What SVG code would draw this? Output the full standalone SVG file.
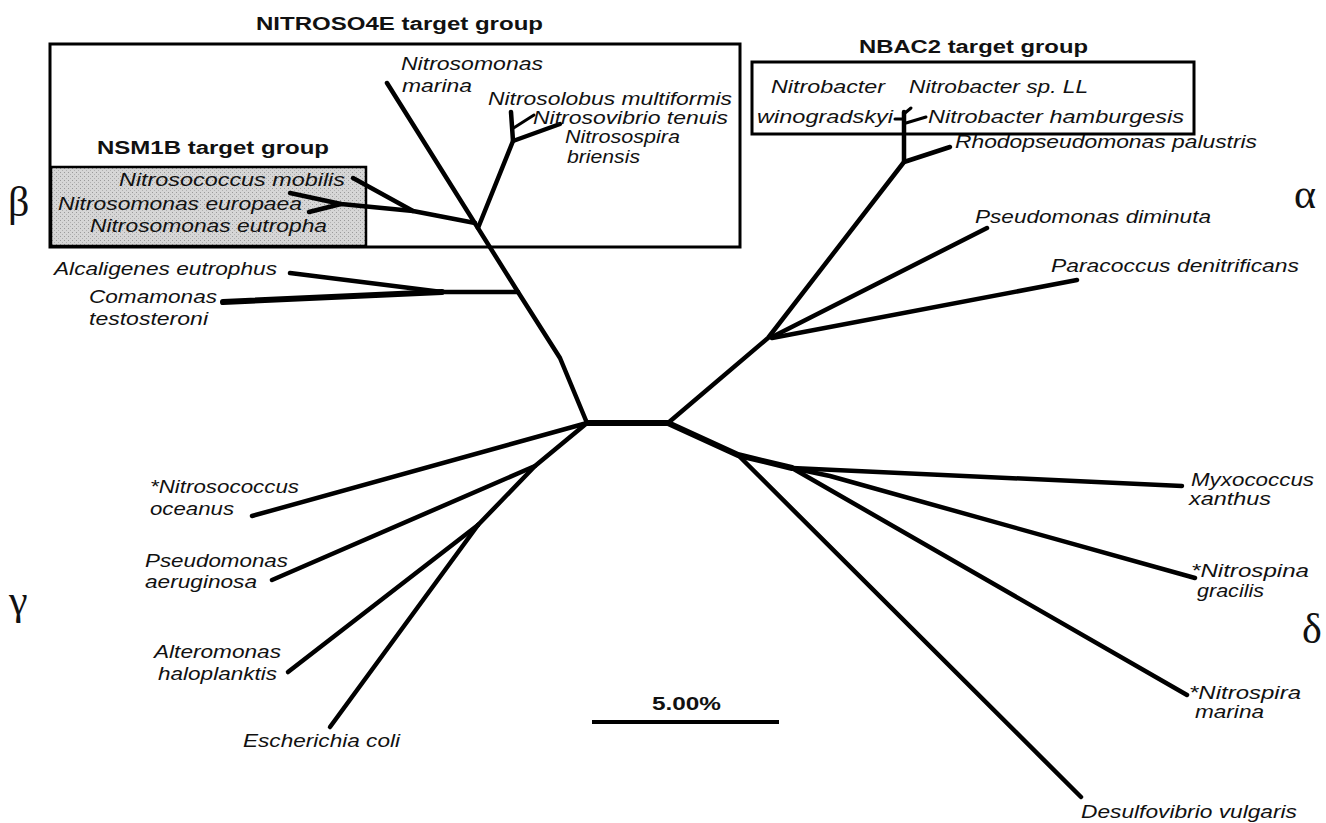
<svg xmlns="http://www.w3.org/2000/svg" width="1326" height="823" viewBox="0 0 1326 823">
<defs>
<style>
.lbl{font-family:"Liberation Sans",Arial,sans-serif;font-style:italic;font-size:17.5px;fill:#111}
.ttl{font-family:"Liberation Sans",Arial,sans-serif;font-weight:bold;font-size:18px;fill:#111}
.grk{font-family:"Liberation Serif","Times New Roman",serif;font-size:42px;fill:#111}
.br{stroke:#000;stroke-width:4.5;fill:none;stroke-linecap:round;stroke-linejoin:round}
.thk{stroke-width:6}
.thin{stroke-width:3}
.box{fill:none;stroke:#000;stroke-width:3}
</style>
<pattern id="stip" width="4" height="4" patternUnits="userSpaceOnUse">
<rect width="4" height="4" fill="#d6d6d6"/>
<rect x="0" y="0" width="1" height="1" fill="#9a9a9a"/>
<rect x="2" y="2" width="1" height="1" fill="#b0b0b0"/>
</pattern>
</defs>
<rect width="1326" height="823" fill="#fff"/>

<g id="group-nitroso4e">
<rect class="box" x="50" y="44" width="690" height="203"/>
<text class="ttl" x="256" y="30" textLength="287" lengthAdjust="spacingAndGlyphs">NITROSO4E target group</text>
</g>
<g id="group-nsm1b">
<rect x="51" y="167" width="315" height="79" fill="url(#stip)" stroke="#000" stroke-width="2.5"/>
<text class="ttl" x="97" y="154" textLength="232" lengthAdjust="spacingAndGlyphs">NSM1B target group</text>
</g>
<g id="group-nbac2">
<rect class="box" x="752" y="62" width="442" height="72"/>
<text class="ttl" x="859" y="53" textLength="229" lengthAdjust="spacingAndGlyphs">NBAC2 target group</text>
</g>

<g id="connectors">
<path class="br thk" d="M587,423 L668,423"/>
<path class="br" d="M387,83 L518,292 L560,358 L587,423"/>
<path class="br" d="M518,292 L442,292 L290,273"/>
<path class="br thk" d="M442,292 L223,302"/>
<path class="br" d="M475,223 L413,211 L353,178"/>
<path class="br" d="M413,211 L341,204 L290,193"/>
<path class="br" d="M341,204 L309,212"/>
<path class="br" d="M478,228 L513,141 L511,112"/>
<path class="br thin" d="M512,129 L534,115"/>
<path class="br" d="M513,141 L560,124"/>
<path class="br" d="M668,423 L768,338 L904,162 L904,112"/>
<path class="br" d="M904,162 L950,147"/>
<path class="br thin" d="M895,119 L904,119"/>
<path class="br thin" d="M905,113 L911,108"/>
<path class="br thin" d="M906,123 L926,117"/>
<path class="br" d="M772,337 L987,228"/>
<path class="br" d="M772,338 L1077,280"/>
<path class="br thk" d="M668,423 L738,455 L792,468"/>
<path class="br" d="M738,455 L1081,797"/>
<path class="br" d="M792,468 L1187,695"/>
<path class="br" d="M792,468 L1182,486"/>
<path class="br" d="M792,468 L830,476 L1195,578"/>
<path class="br" d="M587,423 L252,516"/>
<path class="br" d="M587,423 L535,466 L478,525"/>
<path class="br" d="M535,466 L272,580"/>
<path class="br" d="M478,525 L288,672"/>
<path class="br" d="M478,525 L330,727"/>
<path stroke="#000" stroke-width="4" d="M592,722 L779,722"/>
</g>

<g id="n-nitrosomonas-marina"><text class="lbl" x="401" y="70" textLength="142" lengthAdjust="spacingAndGlyphs">Nitrosomonas</text><text class="lbl" x="402" y="92" textLength="70" lengthAdjust="spacingAndGlyphs">marina</text></g>
<g id="n-nitrosolobus"><text class="lbl" x="488" y="105" textLength="244" lengthAdjust="spacingAndGlyphs">Nitrosolobus multiformis</text></g>
<g id="n-nitrosovibrio"><text class="lbl" x="533" y="124" textLength="195" lengthAdjust="spacingAndGlyphs">Nitrosovibrio tenuis</text></g>
<g id="n-nitrosospira"><text class="lbl" x="565" y="143" textLength="115" lengthAdjust="spacingAndGlyphs">Nitrosospira</text><text class="lbl" x="567" y="163" textLength="73" lengthAdjust="spacingAndGlyphs">briensis</text></g>
<g id="n-nitrosococcus-mobilis"><text class="lbl" x="119" y="186" textLength="226" lengthAdjust="spacingAndGlyphs">Nitrosococcus mobilis</text></g>
<g id="n-nitrosomonas-europaea"><text class="lbl" x="58" y="210" textLength="244" lengthAdjust="spacingAndGlyphs">Nitrosomonas europaea</text></g>
<g id="n-nitrosomonas-eutropha"><text class="lbl" x="90" y="232" textLength="237" lengthAdjust="spacingAndGlyphs">Nitrosomonas eutropha</text></g>
<g id="n-alcaligenes"><text class="lbl" x="54" y="275" textLength="223" lengthAdjust="spacingAndGlyphs">Alcaligenes eutrophus</text></g>
<g id="n-comamonas"><text class="lbl" x="89" y="303" textLength="128" lengthAdjust="spacingAndGlyphs">Comamonas</text><text class="lbl" x="89" y="325" textLength="119" lengthAdjust="spacingAndGlyphs">testosteroni</text></g>

<g id="n-nitrobacter-wino"><text class="lbl" x="771" y="93" textLength="114" lengthAdjust="spacingAndGlyphs">Nitrobacter</text><text class="lbl" x="757" y="123" textLength="136" lengthAdjust="spacingAndGlyphs">winogradskyi</text></g>
<g id="n-nitrobacter-ll"><text class="lbl" x="909" y="93" textLength="179" lengthAdjust="spacingAndGlyphs">Nitrobacter sp. LL</text></g>
<g id="n-nitrobacter-ham"><text class="lbl" x="928" y="123" textLength="256" lengthAdjust="spacingAndGlyphs">Nitrobacter  hamburgesis</text></g>
<g id="n-rhodo"><text class="lbl" x="955" y="148" textLength="302" lengthAdjust="spacingAndGlyphs">Rhodopseudomonas palustris</text></g>
<g id="n-pseudo-dim"><text class="lbl" x="975" y="223" textLength="236" lengthAdjust="spacingAndGlyphs">Pseudomonas diminuta</text></g>
<g id="n-paracoccus"><text class="lbl" x="1051" y="272" textLength="248" lengthAdjust="spacingAndGlyphs">Paracoccus denitrificans</text></g>

<g id="n-myxo"><text class="lbl" x="1191" y="486" textLength="123" lengthAdjust="spacingAndGlyphs">Myxococcus</text><text class="lbl" x="1189" y="505" textLength="82" lengthAdjust="spacingAndGlyphs">xanthus</text></g>
<g id="n-nitrospina"><text class="lbl" x="1191" y="577" textLength="118" lengthAdjust="spacingAndGlyphs">*Nitrospina</text><text class="lbl" x="1197" y="597" textLength="67" lengthAdjust="spacingAndGlyphs">gracilis</text></g>
<g id="n-nitrospira"><text class="lbl" x="1189" y="699" textLength="112" lengthAdjust="spacingAndGlyphs">*Nitrospira</text><text class="lbl" x="1195" y="718" textLength="69" lengthAdjust="spacingAndGlyphs">marina</text></g>
<g id="n-desulfo"><text class="lbl" x="1081" y="818" textLength="216" lengthAdjust="spacingAndGlyphs">Desulfovibrio vulgaris</text></g>

<g id="n-nitrosococcus-oceanus"><text class="lbl" x="150" y="493" textLength="149" lengthAdjust="spacingAndGlyphs">*Nitrosococcus</text><text class="lbl" x="150" y="515" textLength="84" lengthAdjust="spacingAndGlyphs">oceanus</text></g>
<g id="n-pseudo-aer"><text class="lbl" x="145" y="567" textLength="143" lengthAdjust="spacingAndGlyphs">Pseudomonas</text><text class="lbl" x="145" y="588" textLength="112" lengthAdjust="spacingAndGlyphs">aeruginosa</text></g>
<g id="n-altero"><text class="lbl" x="154" y="658" textLength="127" lengthAdjust="spacingAndGlyphs">Alteromonas</text><text class="lbl" x="158" y="680" textLength="119" lengthAdjust="spacingAndGlyphs">haloplanktis</text></g>
<g id="n-ecoli"><text class="lbl" x="243" y="747" textLength="157" lengthAdjust="spacingAndGlyphs">Escherichia coli</text></g>

<g id="scale-label"><text class="ttl" x="652" y="710" font-size="15" textLength="69" lengthAdjust="spacingAndGlyphs">5.00%</text></g>

<g id="greek">
<text class="grk" x="8" y="216">β</text>
<text class="grk" x="1294" y="208">α</text>
<text class="grk" x="9" y="614">γ</text>
<text class="grk" x="1302" y="643">δ</text>
</g>
</svg>
